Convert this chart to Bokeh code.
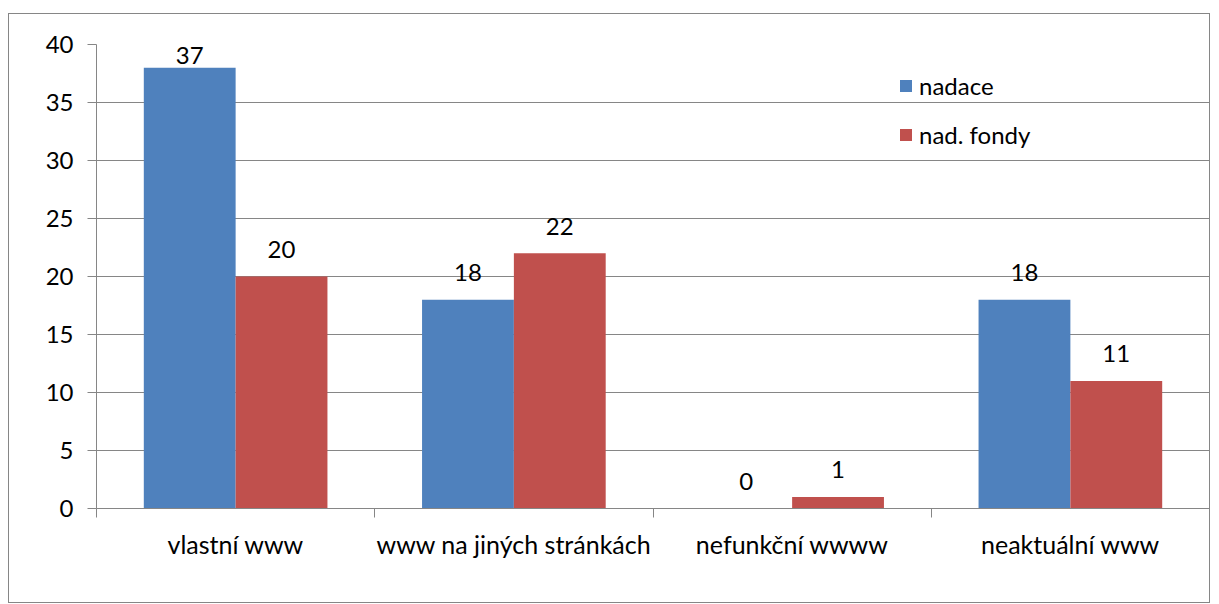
from bokeh.plotting import figure
from bokeh.models import ColumnDataSource, FixedTicker, Legend, LegendItem, Range1d
from bokeh.core.properties import value
from bokeh.embed import file_html
from bokeh.resources import INLINE

categories = ["vlastní www", "www na jiných stránkách", "nefunkční wwww", "neaktuální www"]
nadace = [38, 18, 0, 18]
nadace_labels = ["37", "18", "0", "18"]
fondy = [20, 22, 1, 11]
fondy_labels = ["20", "22", "1", "11"]
series_names = ["nadace", "nad. fondy"]
y_ticks = [0, 5, 10, 15, 20, 25, 30, 35, 40]

FONT = "Lato"
FS = "24px"
BLUE = "#4F81BD"
RED = "#C0504D"
GREY = "#868686"

n = len(categories)
bw = 0.33
centers = [i + 0.5 for i in range(n)]
y_max = 40
frame_h = 464
ppu = frame_h / y_max

def label_y(vals):
    return [min(v + 27 / ppu, y_max - 11 / ppu) for v in vals]

src_n = ColumnDataSource(dict(x=[c - bw / 2 for c in centers], top=nadace,
                              ly=label_y(nadace), lab=nadace_labels))
src_f = ColumnDataSource(dict(x=[c + bw / 2 for c in centers], top=fondy,
                              ly=label_y(fondy), lab=fondy_labels))

p = figure(width=1202, height=590, output_backend="svg", toolbar_location=None,
           x_range=Range1d(0, n), y_range=Range1d(0, y_max),
           min_border_left=87, min_border_right=2, min_border_top=30, min_border_bottom=96)
p.styles = {"border": f"1px solid {GREY}"}
p.margin = (13, 0, 0, 8)
p.outline_line_color = None
p.background_fill_color = "white"

rn = p.vbar(x="x", top="top", width=bw, bottom=0, source=src_n, fill_color=BLUE, line_color=None)
rf = p.vbar(x="x", top="top", width=bw, bottom=0, source=src_f, fill_color=RED, line_color=None)

for s in (src_n, src_f):
    p.text(x="x", y="ly", text="lab", source=s, text_align="center", text_baseline="middle",
           text_font=value(FONT), text_font_size=FS, text_color="black")

# y axis
p.yaxis.ticker = FixedTicker(ticks=y_ticks)
p.yaxis.axis_line_color = GREY
p.yaxis.major_tick_line_color = GREY
p.yaxis.major_tick_out = 9
p.yaxis.major_tick_in = 0
p.yaxis.minor_tick_line_color = None
p.yaxis.major_label_text_font = FONT
p.yaxis.major_label_text_font_size = FS
p.yaxis.major_label_text_color = "black"
p.yaxis.major_label_standoff = 14

# x axis
p.xaxis.ticker = FixedTicker(ticks=centers, minor_ticks=list(range(n + 1)))
p.xaxis.major_label_overrides = {c: lab for c, lab in zip(centers, categories)}
p.xaxis.axis_line_color = GREY
p.xaxis.major_tick_line_color = None
p.xaxis.major_tick_out = 0
p.xaxis.major_tick_in = 0
p.xaxis.minor_tick_line_color = GREY
p.xaxis.minor_tick_out = 9
p.xaxis.minor_tick_in = 0
p.xaxis.major_label_text_font = FONT
p.xaxis.major_label_text_font_size = "25px"
p.xaxis.major_label_text_color = "black"
p.xaxis.major_label_standoff = 11

p.xgrid.grid_line_color = None
p.ygrid.grid_line_color = GREY
p.ygrid.grid_line_width = 1

legend = Legend(items=[LegendItem(label=series_names[0], renderers=[rn]),
                       LegendItem(label=series_names[1], renderers=[rf])],
                location=(802, 359), orientation="vertical")
legend.border_line_color = None
legend.background_fill_alpha = 0
legend.padding = 0
legend.margin = 0
legend.spacing = 20
legend.glyph_width = 15
legend.glyph_height = 15
legend.label_standoff = 6
legend.label_text_font = FONT
legend.label_text_font_size = FS
legend.label_text_color = "black"
p.add_layout(legend)

open("out.html", "w").write(file_html(p, INLINE))
